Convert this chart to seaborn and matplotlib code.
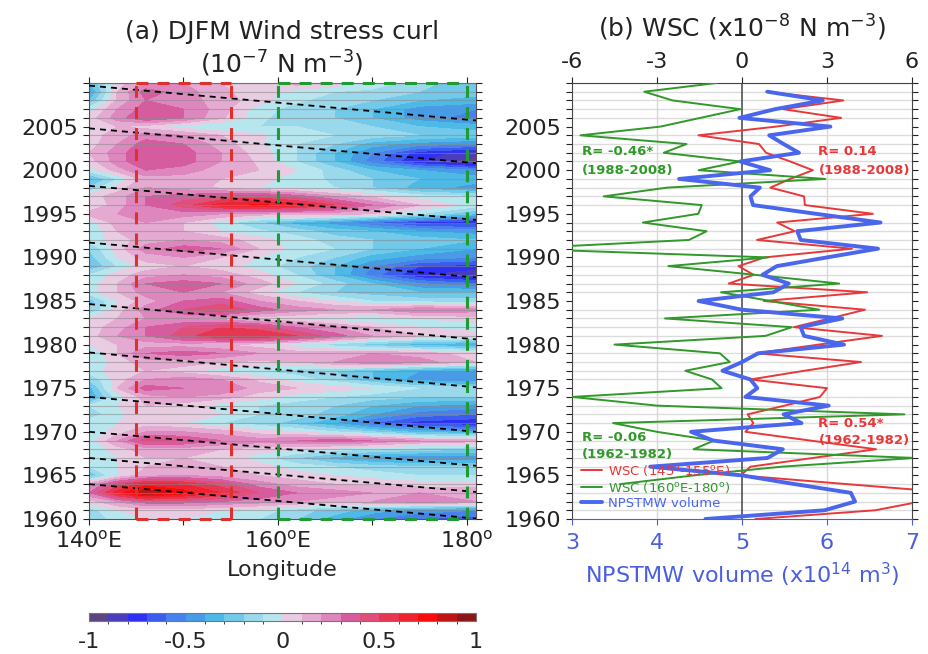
import numpy as np
import pandas as pd
import matplotlib
matplotlib.use("Agg")
import matplotlib.pyplot as plt
from matplotlib.colors import ListedColormap, BoundaryNorm
from matplotlib.lines import Line2D
import seaborn as sns

# ---------------- data ----------------
years = list(range(1960, 2010))
# WSC averaged over 145-155E (x1e-8 N m-3)
wsc_west = [0.47, 4.7, 6.3, 7.5, 3.7, -0.05, 0.3, 2.5, 4.73, 2.4,
            0.12, 0.4, 0.2, 1.5, 2.75, 3.0, 0.3, 2.2, 4.2, 0.5,
            2.7, 4.94, 1.83, 3.1, 4.34, 0.77, 4.42, -0.47, 0.41, -0.12,
            0.8, 3.88, 0.53, 1.86, 1.24, 4.62, 2.22, 2.19, 1.0, 1.7,
            2.5, 1.7, 0.85, 0.6, -1.54, 1.2, 3.5, 1.45, 3.58, 0.85]
# NPSTMW volume (x1e14 m3)
volume = [4.57, 5.97, 6.33, 6.28, 5.62, 5.0, 3.92, 5.30, 5.48, 4.66,
          4.40, 5.70, 5.49, 6.02, 5.04, 5.18, 5.10, 4.77, 5.0, 5.19,
          6.2, 5.73, 5.69, 6.18, 5.0, 4.49, 5.37, 5.55, 5.24, 5.41,
          6.0, 6.6, 5.69, 5.65, 6.63, 5.87, 5.13, 5.10, 5.21, 4.26,
          5.33, 4.98, 5.67, 5.49, 5.32, 6.04, 4.97, 5.39, 5.95, 5.30]
# WSC averaged over 160E-180 (x1e-8 N m-3)
years_east = list(range(1964, 2011))
wsc_east = [-4.31, -1.7, 1.4, 6.1, -1.71, -0.98, -3.01, -4.55, 5.73, -3.0,
            -6.0, -0.72, -1.06, -2.0, -0.43, -0.78, -4.5, 0.83, 1.76, -2.72,
            2.73, 1.0, -0.74, 3.43, 0.47, -2.6, 0.93, -8.0, -1.87, -1.25,
            -3.5, -1.54, -1.42, -4.88, -2.65, 2.94, -1.53, -0.06, -2.76, -1.96,
            -5.7, -2.88, -1.47, -0.06, -2.45, -3.45, -0.9]

# DJFM wind stress curl (x1e-7 N m-3), longitude x year
field_lons = [140, 143, 146, 150, 154, 158, 162, 166, 170, 175, 181]
field_years = list(range(1960, 2011))
wsc_field = [
    [-0.2, -0.05, 0.0, 0.0, -0.05, -0.1, -0.2, -0.35, -0.5, -0.6, -0.65],
    [-0.15, 0.0, 0.05, 0.05, 0.0, -0.05, -0.15, -0.25, -0.35, -0.45, -0.5],
    [0.05, 0.2, 0.35, 0.35, 0.3, 0.25, 0.2, 0.15, 0.2, 0.25, 0.2],
    [0.3, 0.65, 0.9, 0.75, 0.6, 0.4, 0.3, 0.25, 0.2, 0.2, 0.2],
    [0.15, 0.45, 0.65, 0.6, 0.45, 0.25, 0.15, 0.1, 0.08, 0.05, 0.05],
    [-0.3, 0.0, 0.15, 0.2, 0.15, 0.1, 0.05, 0.0, -0.05, -0.1, -0.1],
    [-0.1, 0.0, 0.1, 0.15, 0.1, 0.05, -0.05, -0.1, -0.15, -0.2, -0.2],
    [-0.1, 0.0, 0.1, 0.1, 0.05, -0.05, -0.2, -0.35, -0.45, -0.5, -0.5],
    [-0.1, 0.05, 0.15, 0.15, 0.1, 0.05, 0.0, -0.05, -0.1, -0.15, -0.2],
    [-0.05, 0.2, 0.45, 0.4, 0.3, 0.25, 0.3, 0.35, 0.3, 0.2, 0.15],
    [-0.1, 0.05, 0.2, 0.2, 0.15, 0.05, 0.0, -0.1, -0.2, -0.35, -0.4],
    [-0.05, 0.0, 0.05, 0.0, -0.1, -0.15, -0.25, -0.4, -0.6, -0.75, -0.8],
    [-0.15, -0.05, 0.1, 0.1, 0.0, -0.1, -0.15, -0.25, -0.4, -0.55, -0.6],
    [-0.1, 0.0, 0.1, 0.05, -0.05, -0.1, -0.15, -0.2, -0.3, -0.4, -0.45],
    [-0.4, -0.05, 0.15, 0.2, 0.15, 0.05, -0.05, -0.1, -0.15, -0.2, -0.2],
    [-0.35, 0.1, 0.35, 0.3, 0.3, 0.15, 0.1, 0.05, 0.0, -0.1, -0.15],
    [-0.2, 0.05, 0.2, 0.25, 0.2, 0.08, -0.05, -0.15, -0.3, -0.45, -0.5],
    [-0.05, 0.05, 0.1, 0.05, -0.05, -0.1, -0.15, -0.2, -0.3, -0.4, -0.45],
    [-0.1, 0.05, 0.15, 0.15, 0.1, 0.08, 0.1, 0.2, 0.3, 0.25, 0.1],
    [-0.1, 0.1, 0.3, 0.35, 0.3, 0.2, 0.15, 0.15, 0.2, 0.15, 0.05],
    [0.0, 0.1, 0.15, 0.15, 0.1, 0.05, -0.05, -0.15, -0.25, -0.35, -0.4],
    [0.05, 0.2, 0.3, 0.45, 0.6, 0.6, 0.5, 0.35, 0.2, 0.1, 0.05],
    [0.05, 0.15, 0.3, 0.4, 0.5, 0.45, 0.3, 0.2, 0.1, 0.0, -0.05],
    [0.0, 0.1, 0.2, 0.2, 0.15, 0.05, 0.0, -0.05, -0.1, 0.0, 0.05],
    [-0.2, 0.05, 0.25, 0.4, 0.5, 0.35, 0.25, 0.2, 0.2, 0.3, 0.25],
    [-0.25, 0.0, 0.15, 0.3, 0.35, 0.2, 0.1, 0.0, -0.1, -0.15, -0.15],
    [-0.05, 0.1, 0.25, 0.3, 0.2, 0.05, -0.1, -0.2, -0.25, -0.3, -0.3],
    [-0.05, 0.1, 0.3, 0.35, 0.3, 0.15, 0.0, -0.15, -0.3, -0.5, -0.6],
    [-0.1, 0.05, 0.15, 0.2, 0.15, 0.05, -0.1, -0.3, -0.55, -0.8, -0.9],
    [-0.3, -0.1, 0.05, 0.1, 0.05, -0.05, -0.15, -0.3, -0.5, -0.7, -0.75],
    [-0.25, 0.0, 0.15, 0.2, 0.1, 0.0, -0.1, -0.2, -0.35, -0.45, -0.5],
    [-0.2, 0.05, 0.25, 0.35, 0.3, 0.1, -0.05, -0.1, -0.2, -0.3, -0.4],
    [-0.05, 0.05, 0.15, 0.2, 0.15, 0.05, -0.05, -0.15, -0.2, -0.25, -0.3],
    [-0.1, 0.1, 0.15, 0.1, 0.0, -0.08, -0.15, -0.25, -0.3, -0.4, -0.45],
    [-0.05, 0.15, 0.2, 0.1, -0.05, -0.2, -0.35, -0.45, -0.6, -0.75, -0.8],
    [0.15, 0.2, 0.3, 0.25, 0.2, 0.15, 0.15, 0.15, 0.1, -0.1, -0.3],
    [0.0, 0.15, 0.3, 0.45, 0.65, 0.72, 0.65, 0.5, 0.3, 0.1, -0.05],
    [0.05, 0.15, 0.3, 0.35, 0.4, 0.45, 0.35, 0.2, 0.08, -0.05, -0.1],
    [-0.2, 0.05, 0.2, 0.15, 0.08, 0.0, -0.05, -0.1, -0.2, -0.35, -0.45],
    [-0.35, -0.1, 0.15, 0.15, 0.1, 0.05, -0.05, -0.12, -0.2, -0.3, -0.35],
    [-0.05, 0.15, 0.3, 0.25, 0.15, 0.1, 0.0, -0.15, -0.3, -0.4, -0.5],
    [0.05, 0.25, 0.4, 0.35, 0.2, 0.08, -0.1, -0.3, -0.55, -0.8, -0.98],
    [0.1, 0.25, 0.4, 0.35, 0.2, 0.05, -0.1, -0.3, -0.5, -0.75, -0.85],
    [0.05, 0.2, 0.35, 0.3, 0.15, 0.02, -0.1, -0.2, -0.35, -0.45, -0.5],
    [0.05, 0.15, 0.25, 0.2, 0.1, 0.02, -0.08, -0.1, -0.15, -0.2, -0.25],
    [0.05, 0.1, 0.05, -0.05, -0.1, -0.1, -0.1, -0.15, -0.2, -0.3, -0.35],
    [0.05, 0.25, 0.4, 0.3, 0.12, -0.08, -0.15, -0.2, -0.3, -0.45, -0.55],
    [-0.05, 0.2, 0.35, 0.3, 0.15, -0.05, -0.15, -0.2, -0.3, -0.45, -0.5],
    [-0.3, 0.12, 0.3, 0.25, 0.15, 0.05, -0.08, -0.15, -0.2, -0.3, -0.35],
    [-0.45, 0.1, 0.35, 0.25, 0.12, 0.05, -0.05, -0.1, -0.12, -0.2, -0.25],
    [-0.3, 0.05, 0.2, 0.2, 0.1, 0.08, 0.15, 0.08, -0.05, -0.15, -0.3],
]

# westward-propagation guide lines: year at 140E and at 181E
prop_start = [2009.7, 2004.8, 1998.2, 1991.7, 1984.65, 1979.1, 1974.0, 1970.0, 1967.0, 1964.0]
prop_end = [2005.7, 2000.8, 1994.3, 1987.7, 1980.6, 1975.1, 1970.0, 1966.1, 1963.1, 1960.05]

# averaging boxes (longitude ranges)
box_west = [145, 155]
box_east = [160, 180]

level_colors = ['#5b4682', '#4a3dbd', '#3030f5', '#3a5cf0', '#4881ee', '#489ce6',
                '#4cb9e6', '#72c9e9', '#99d9eb', '#b8e6ee', '#e8cce2', '#e4aad2',
                '#de86be', '#d75c9f', '#df4f79', '#e83552', '#f02230', '#fb0a0a',
                '#c01414', '#8c1616']

RED = '#e8383a'
GREEN = '#30992a'
BLUE = '#4a66ec'
BLUE_TXT = '#4a5fe0'

# ---------------- style ----------------
sns.set_style("ticks")
plt.rcParams['font.family'] = ['DejaVu Sans']
plt.rcParams['mathtext.fontset'] = 'dejavusans'
plt.rcParams['text.color'] = '#222222'
TICK_FS = 16

W, H = 929, 654
fig = plt.figure(figsize=(W / 100, H / 100), dpi=100)

def rect(l, t, r, b):
    return [l / W, 1 - b / H, (r - l) / W, (b - t) / H]

# ---------------- panel (a) ----------------
ax1 = fig.add_axes(rect(89, 83, 476, 519))
lon_g, yr_g = np.meshgrid(field_lons, field_years)
levels = np.round(np.arange(-1.0, 1.0001, 0.1), 2)
cmap = ListedColormap(level_colors)
norm = BoundaryNorm(levels, cmap.N)
cf = ax1.contourf(lon_g, yr_g, np.clip(np.array(wsc_field), -0.999, 0.999),
                  levels=levels, cmap=cmap, norm=norm)
ax1.set_xlim(140, 181)
ax1.set_ylim(1960, 2010)

for y0, y1 in zip(prop_start, prop_end):
    ax1.plot([140, 181], [y0, y1], color='black', lw=1.3,
             linestyle=(0, (3.3, 2.8)), zorder=4)

dash = (0, (3.9, 3.0))
for lon in box_west:
    ax1.plot([lon, lon], [1960, 2010], color='#e0302e', lw=2.2, linestyle=dash, zorder=5)
for lon in box_east:
    ax1.plot([lon, lon], [1960, 2010], color='#1f9a35', lw=2.2, linestyle=dash, zorder=5)
for yb in (1960, 2010):
    ax1.plot(box_west, [yb, yb], color='#e0302e', lw=2.2, linestyle=dash, zorder=5, clip_on=False)
    ax1.plot(box_east, [yb, yb], color='#1f9a35', lw=2.2, linestyle=dash, zorder=5, clip_on=False)

ax1.set_yticks(range(1960, 2010, 5))
ax1.set_yticks(range(1960, 2011), minor=True)
ax1.set_xticks([140, 150, 160, 170, 180])
ax1.set_xticklabels([r'140$^{\rm o}$E', '', r'160$^{\rm o}$E', '', r'180$^{\rm o}$'])
ax1.set_axisbelow(False)
ax1.grid(which='minor', axis='y', color='#888888', alpha=0.55, lw=0.8)
ax1.tick_params(which='both', direction='out', length=4, width=0.8,
                top=True, right=True, labelsize=TICK_FS, colors='#222222')
for s in ax1.spines.values():
    s.set_color('#555555')
    s.set_linewidth(0.8)
ax1.set_xlabel('Longitude', fontsize=TICK_FS, labelpad=6)

fig.text(282 / W, 1 - 32 / H, '(a) DJFM Wind stress curl', ha='center', va='center', fontsize=18)
fig.text(282 / W, 1 - 64 / H, r'(10$^{-7}$ N m$^{-3}$)', ha='center', va='center', fontsize=18)

# colorbar
cax = fig.add_axes(rect(89, 613, 476, 621))
cb = fig.colorbar(cf, cax=cax, orientation='horizontal', ticks=[-1, -0.5, 0, 0.5, 1])
cb.ax.set_xticklabels(['-1', '-0.5', '0', '0.5', '1'])
cb.ax.tick_params(labelsize=TICK_FS, length=3, direction='in', width=0.6, pad=8)
cb.outline.set_edgecolor('#777777')
cb.outline.set_linewidth(0.8)

# ---------------- panel (b) ----------------
ax2 = fig.add_axes(rect(572, 83, 912, 519))
ax3 = ax2.twiny()
df_west = pd.DataFrame({'year': years, 'wsc': wsc_west})
df_east = pd.DataFrame({'year': years_east, 'wsc': wsc_east})
df_vol = pd.DataFrame({'year': years, 'vol': volume})

sns.lineplot(data=df_west, x='wsc', y='year', orient='y', sort=False, estimator=None,
             color=RED, lw=1.4, ax=ax2, zorder=3)
sns.lineplot(data=df_east, x='wsc', y='year', orient='y', sort=False, estimator=None,
             color=GREEN, lw=1.4, ax=ax2, zorder=3)
ax2.set_xlim(-6, 6)
ax2.set_ylim(1960, 2010)
ax2.set_xticks([-6, -3, 0, 3, 6])
ax2.set_xticklabels(['-6', '-3', '0', '3', '6'])
ax2.set_yticks(range(1960, 2010, 5))
ax2.set_yticks(range(1960, 2011), minor=True)
ax2.set_xlabel('')
ax2.set_ylabel('')
ax2.set_axisbelow(True)
ax2.grid(which='minor', axis='y', color='#dcdcdc', lw=1.0)
for xv in (-3, 3):
    ax2.axvline(xv, color='#d8d8d8', lw=1.0, zorder=0.6)
ax2.axvline(0, color='#444444', lw=1.1, zorder=1)
for s in ax2.spines.values():
    s.set_color('#444444')
    s.set_linewidth(0.8)
ax2.spines['bottom'].set_visible(False)

sns.lineplot(data=df_vol, x='vol', y='year', orient='y', sort=False, estimator=None,
             color=BLUE, lw=2.8, ax=ax3, zorder=4)
ax3.set_xlim(3, 7)
ax3.set_ylim(1960, 2010)
ax3.set_xticks([3, 4, 5, 6, 7])
ax3.set_ylabel('')
for name, s in ax3.spines.items():
    s.set_visible(name == 'bottom')
ax3.spines['bottom'].set_color(BLUE_TXT)

# WSC scale on top, volume scale on bottom
ax2.xaxis.set_ticks_position('top')
ax2.xaxis.set_label_position('top')
ax2.tick_params(axis='x', which='both', top=True, labeltop=True, bottom=False,
                labelbottom=False, direction='out', length=4, width=0.8,
                labelsize=TICK_FS, colors='#222222', pad=4)
ax2.tick_params(axis='y', which='both', left=True, right=True, direction='out',
                length=4, width=0.8, labelsize=TICK_FS, colors='#222222')
ax3.xaxis.set_ticks_position('bottom')
ax3.xaxis.set_label_position('bottom')
ax3.tick_params(axis='x', top=False, labeltop=False, bottom=True, labelbottom=True,
                direction='out', length=4, width=0.8, colors=BLUE_TXT,
                labelsize=TICK_FS, pad=6)
ax3.set_xlabel(r'NPSTMW volume (x10$^{14}$ m$^{3}$)', color=BLUE_TXT,
               fontsize=TICK_FS, labelpad=6)

fig.text(742 / W, 1 - 28 / H, r'(b) WSC (x10$^{-8}$ N m$^{-3}$)', ha='center',
         va='center', fontsize=18)

# correlation annotations
ann = dict(fontsize=9.5, fontweight='bold', ha='left', va='center', zorder=6)
ax2.text(-5.66, 2002.1, 'R= -0.46*', color=GREEN, **ann)
ax2.text(-5.66, 2000.0, '(1988-2008)', color=GREEN, **ann)
ax2.text(2.7, 2002.1, 'R= 0.14', color=RED, **ann)
ax2.text(2.7, 2000.0, '(1988-2008)', color=RED, **ann)
ax2.text(2.7, 1970.9, 'R= 0.54*', color=RED, **ann)
ax2.text(2.7, 1969.0, '(1962-1982)', color=RED, **ann)
ax2.text(-5.66, 1969.4, 'R= -0.06', color=GREEN, **ann)
ax2.text(-5.66, 1967.35, '(1962-1982)', color=GREEN, **ann)

handles = [Line2D([], [], color=RED, lw=1.4),
           Line2D([], [], color=GREEN, lw=1.4),
           Line2D([], [], color=BLUE, lw=2.8)]
labels = [r'WSC (145$^{\rm o}$-155$^{\rm o}$E)', r'WSC (160$^{\rm o}$E-180$^{\rm o}$)',
          'NPSTMW volume']
leg = ax3.legend(handles, labels, loc='lower left', bbox_to_anchor=(0.0, 0.0),
                 frameon=False, fontsize=9.5, handlelength=1.6, handletextpad=0.4,
                 labelspacing=0.15, borderaxespad=0.3, labelcolor='linecolor')
leg.set_zorder(10)

fig.savefig('out.png', dpi=100)
